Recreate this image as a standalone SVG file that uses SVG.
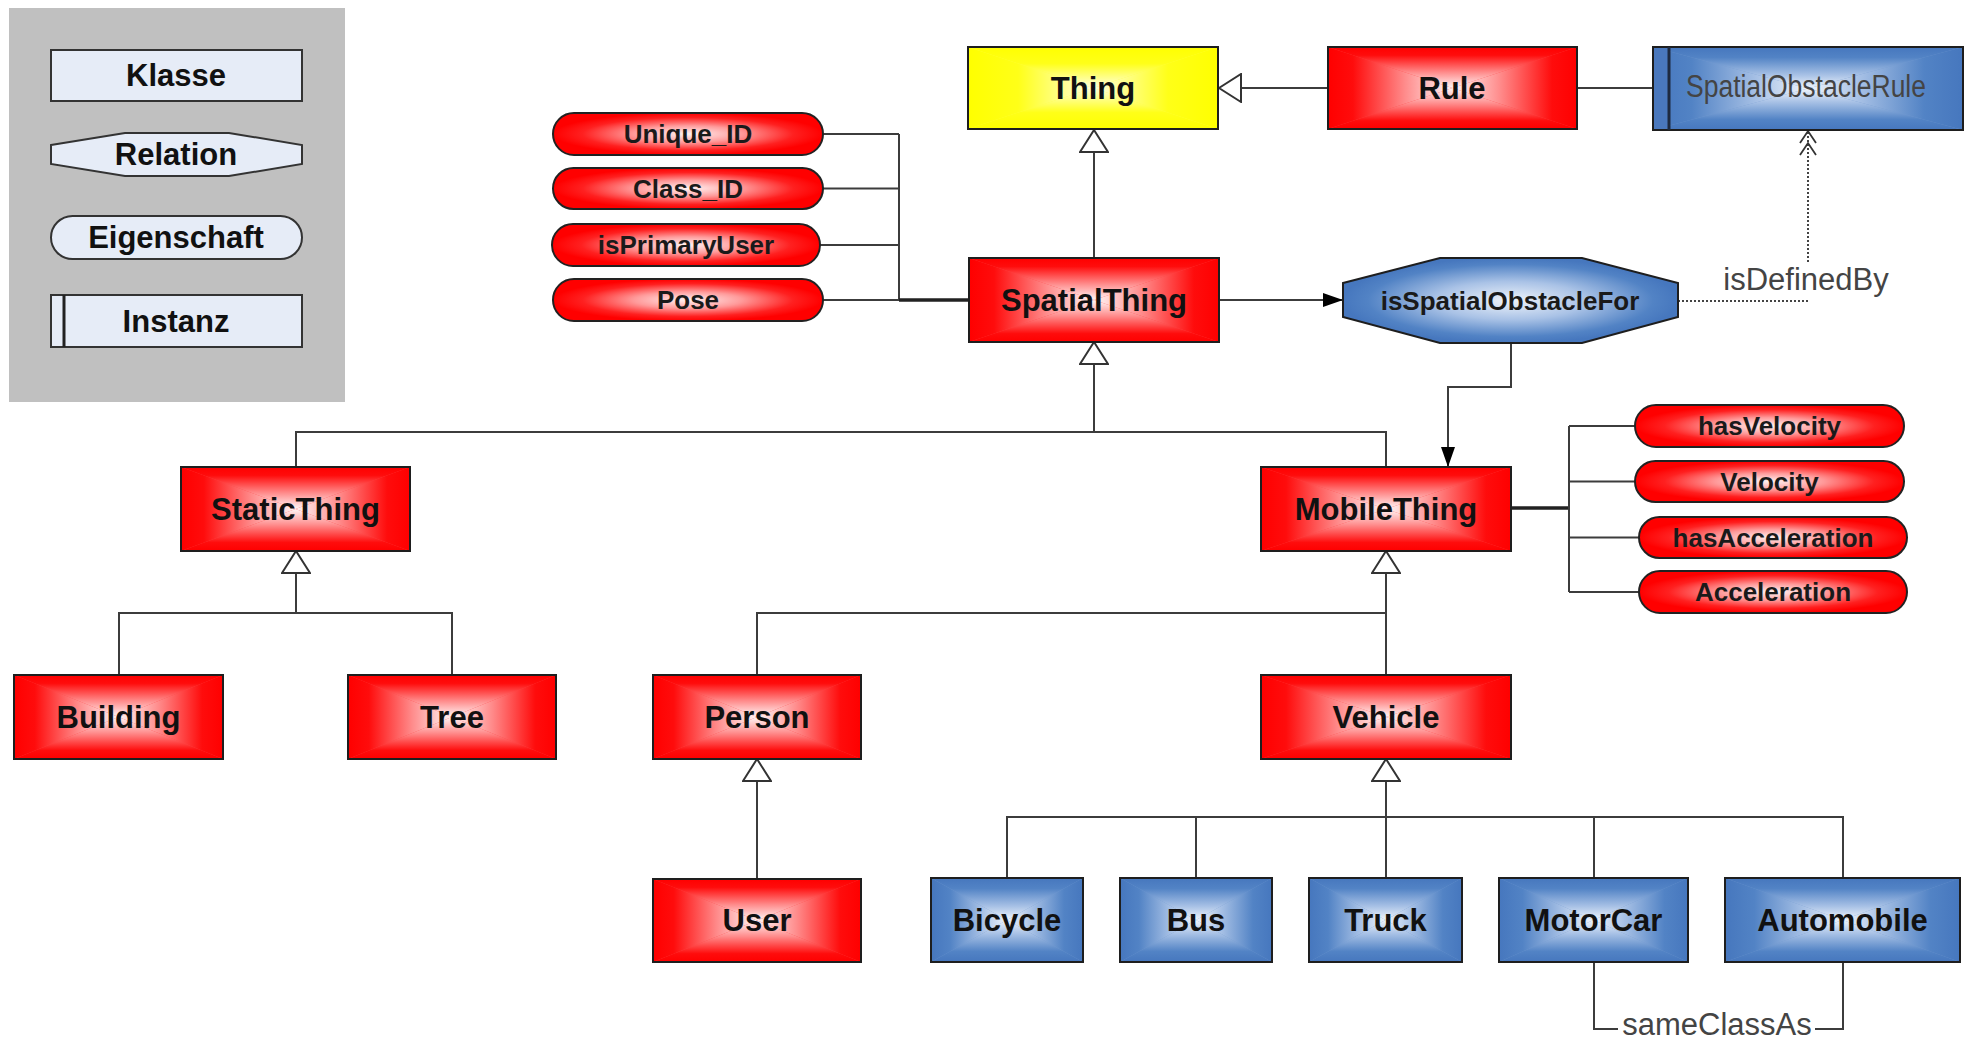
<svg xmlns="http://www.w3.org/2000/svg" width="1969" height="1042" viewBox="0 0 1969 1042">
<style>
  .ln{fill:none;stroke:#3c3c3c;stroke-width:2}
  .thick{fill:none;stroke:#222;stroke-width:3.5}
  .dot{fill:none;stroke:#444;stroke-width:2;stroke-dasharray:2 2}
  .edge{fill:none;stroke:#1e1e1e;stroke-width:2}
  .lg{fill:#e6ecf7;stroke:#333;stroke-width:2}
  .pill{fill:url(#pillG);stroke:#222;stroke-width:2}
  .t{font-family:"Liberation Sans",Arial,sans-serif;font-weight:bold;font-size:31px;fill:#111;text-anchor:middle}
  .tp{font-family:"Liberation Sans",Arial,sans-serif;font-weight:bold;font-size:26px;fill:#1a1a1a;text-anchor:middle}
  .tn{font-family:"Liberation Sans",Arial,sans-serif;font-weight:normal;font-size:31px;fill:#444;text-anchor:middle}
</style>
<defs>
  <linearGradient id="rT" x1="0" y1="0" x2="0" y2="1">
    <stop offset="0" stop-color="#ff0000"/><stop offset="0.2" stop-color="#ff0c0c"/><stop offset="0.62" stop-color="#ff8c8c"/><stop offset="1" stop-color="#fff6f6"/>
  </linearGradient>
  <linearGradient id="rB" href="#rT" x1="0" y1="1" x2="0" y2="0"/>
  <linearGradient id="rL" href="#rT" x1="0" y1="0" x2="1" y2="0"/>
  <linearGradient id="rR" href="#rT" x1="1" y1="0" x2="0" y2="0"/>
  <linearGradient id="bT" x1="0" y1="0" x2="0" y2="1">
    <stop offset="0" stop-color="#4677be"/><stop offset="0.25" stop-color="#5283c5"/><stop offset="0.68" stop-color="#a9c2e6"/><stop offset="1" stop-color="#f0f5fb"/>
  </linearGradient>
  <linearGradient id="bB" href="#bT" x1="0" y1="1" x2="0" y2="0"/>
  <linearGradient id="bL" href="#bT" x1="0" y1="0" x2="1" y2="0"/>
  <linearGradient id="bR" href="#bT" x1="1" y1="0" x2="0" y2="0"/>
  <linearGradient id="yT" x1="0" y1="0" x2="0" y2="1">
    <stop offset="0" stop-color="#ffff00"/><stop offset="0.4" stop-color="#ffff18"/><stop offset="1" stop-color="#ffffe0"/>
  </linearGradient>
  <linearGradient id="yB" href="#yT" x1="0" y1="1" x2="0" y2="0"/>
  <linearGradient id="yL" href="#yT" x1="0" y1="0" x2="1" y2="0"/>
  <linearGradient id="yR" href="#yT" x1="1" y1="0" x2="0" y2="0"/>
  <radialGradient id="pillG" cx="0.5" cy="0.5" r="0.5">
    <stop offset="0" stop-color="#fff2f2"/><stop offset="0.4" stop-color="#ff9a9a"/><stop offset="0.78" stop-color="#ff2020"/><stop offset="1" stop-color="#ff0000"/>
  </radialGradient>
  <radialGradient id="octG" cx="0.5" cy="0.5" r="0.5">
    <stop offset="0" stop-color="#eef3fa"/><stop offset="0.45" stop-color="#a9c2e6"/><stop offset="0.85" stop-color="#5283c5"/><stop offset="1" stop-color="#4677be"/>
  </radialGradient>
  <symbol id="boxR" viewBox="0 0 100 100" preserveAspectRatio="none">
    <rect width="100" height="100" fill="#ff4040"/>
    <polygon points="0,0 100,0 50,50" fill="url(#rT)"/>
    <polygon points="100,0 100,100 50,50" fill="url(#rR)"/>
    <polygon points="0,100 100,100 50,50" fill="url(#rB)"/>
    <polygon points="0,0 0,100 50,50" fill="url(#rL)"/>
  </symbol>
  <symbol id="boxB" viewBox="0 0 100 100" preserveAspectRatio="none">
    <rect width="100" height="100" fill="#7098cf"/>
    <polygon points="0,0 100,0 50,50" fill="url(#bT)"/>
    <polygon points="100,0 100,100 50,50" fill="url(#bR)"/>
    <polygon points="0,100 100,100 50,50" fill="url(#bB)"/>
    <polygon points="0,0 0,100 50,50" fill="url(#bL)"/>
  </symbol>
  <symbol id="boxY" viewBox="0 0 100 100" preserveAspectRatio="none">
    <rect width="100" height="100" fill="#ffff40"/>
    <polygon points="0,0 100,0 50,50" fill="url(#yT)"/>
    <polygon points="100,0 100,100 50,50" fill="url(#yR)"/>
    <polygon points="0,100 100,100 50,50" fill="url(#yB)"/>
    <polygon points="0,0 0,100 50,50" fill="url(#yL)"/>
  </symbol>
  <marker id="gen" viewBox="0 0 24 30" refX="23" refY="15" markerWidth="24" markerHeight="30" orient="auto" markerUnits="userSpaceOnUse">
    <path d="M1,1 L23,15 L1,29 Z" fill="#fff" stroke="#333" stroke-width="2"/>
  </marker>
  <marker id="arr" viewBox="0 0 20 14" refX="20" refY="7" markerWidth="20" markerHeight="14" orient="auto" markerUnits="userSpaceOnUse">
    <path d="M0,0 L20,7 L0,14 Z" fill="#000"/>
  </marker>
</defs>

<rect width="1969" height="1042" fill="#fff"/>

<g id="legend">
  <rect x="9" y="8" width="336" height="394" fill="#c0c0c0"/>
  <g id="legend-klasse">
    <rect class="lg" x="51" y="50" width="251" height="51"/>
    <text class="t" x="176" y="86" font-size="30">Klasse</text>
  </g>
  <g id="legend-relation">
    <polygon class="lg" points="51,145 125,133 229,133 302,145 302,164 229,176 125,176 51,164"/>
    <text class="t" x="176" y="165" font-size="30">Relation</text>
  </g>
  <g id="legend-eigenschaft">
    <rect class="lg" x="51" y="216" width="251" height="43" rx="21.5"/>
    <text class="t" x="176" y="248" font-size="30">Eigenschaft</text>
  </g>
  <g id="legend-instanz">
    <rect class="lg" x="51" y="295" width="251" height="52"/>
    <line x1="64" y1="295" x2="64" y2="347" stroke="#222" stroke-width="3"/>
    <text class="t" x="176" y="332" font-size="30">Instanz</text>
  </g>
</g>

<g id="connectors">
  <path class="ln" d="M1328,88 H1219" marker-end="url(#gen)"/>
  <path class="ln" d="M1577,88 H1653"/>
  <path class="ln" d="M1094,258 V130" marker-end="url(#gen)"/>
  <path class="ln" d="M823,134 H899 M823,188.5 H899 M820,245 H899 M823,300 H899 M899,134 V300"/>
  <path class="thick" d="M899,300 H969"/>
  <path class="ln" d="M1219,300 H1343" marker-end="url(#arr)"/>
  <path class="ln" d="M1511,343 V387 H1448 V467" marker-end="url(#arr)"/>
  <path class="dot" d="M1678,301 H1808"/>
  <path class="dot" d="M1808,262 V132"/>
  <path d="M1800,143 L1808,131 L1816,143 M1800,155 L1808,143 L1816,155" fill="none" stroke="#333" stroke-width="1.8"/>
  <path class="ln" d="M1094,432 V342" marker-end="url(#gen)"/>
  <path class="ln" d="M296,467 V432 H1386 V467"/>
  <path class="thick" d="M1511,508 H1569"/>
  <path class="ln" d="M1569,426 V592 M1569,426 H1635 M1569,481.5 H1635 M1569,537.5 H1639 M1569,592 H1639"/>
  <path class="ln" d="M296,613 V551" marker-end="url(#gen)"/>
  <path class="ln" d="M119,675 V613 H452 V675"/>
  <path class="ln" d="M1386,675 V551" marker-end="url(#gen)"/>
  <path class="ln" d="M757,675 V613 H1386"/>
  <path class="ln" d="M757,879 V759" marker-end="url(#gen)"/>
  <path class="ln" d="M1386,878 V759" marker-end="url(#gen)"/>
  <path class="ln" d="M1007,878 V817 H1843 V878 M1196,817 V878 M1594,817 V878"/>
  <path class="ln" d="M1594,962 V1029 H1618 M1815,1029 H1843 V962"/>
  <text class="tn" x="1806" y="290">isDefinedBy</text>
  <text class="tn" x="1717" y="1035" font-size="30">sameClassAs</text>
</g>

<g id="thing">
  <use href="#boxY" x="968" y="47" width="250" height="82"/>
  <rect class="edge" x="968" y="47" width="250" height="82"/>
  <text class="t" x="1093" y="99">Thing</text>
</g>
<g id="rule">
  <use href="#boxR" x="1328" y="47" width="249" height="82"/>
  <rect class="edge" x="1328" y="47" width="249" height="82"/>
  <text class="t" x="1452" y="99">Rule</text>
</g>
<g id="spatialobstaclerule">
  <use href="#boxB" x="1653" y="47" width="310" height="83"/>
  <rect x="1653" y="47" width="16" height="83" fill="#4a78bd"/>
  <rect class="edge" x="1653" y="47" width="310" height="83"/>
  <line x1="1669" y1="47" x2="1669" y2="130" stroke="#1e2a40" stroke-width="3"/>
  <text class="tn" x="1806" y="97" font-size="25" fill="#2a2a2a" textLength="240" lengthAdjust="spacingAndGlyphs">SpatialObstacleRule</text>
</g>
<g id="spatialthing">
  <use href="#boxR" x="969" y="258" width="250" height="84"/>
  <rect class="edge" x="969" y="258" width="250" height="84"/>
  <text class="t" x="1094" y="311">SpatialThing</text>
</g>
<g id="isspatialobstaclefor">
  <polygon points="1343,283 1440,258 1582,258 1678,283 1678,317 1582,343 1440,343 1343,317" fill="url(#octG)" stroke="#1e1e1e" stroke-width="2"/>
  <text class="tp" x="1510" y="310" font-size="27">isSpatialObstacleFor</text>
</g>
<g id="unique-id">
  <rect class="pill" x="553" y="113" width="270" height="42" rx="21"/>
  <text class="tp" x="688" y="143">Unique_ID</text>
</g>
<g id="class-id">
  <rect class="pill" x="553" y="168" width="270" height="41" rx="20.5"/>
  <text class="tp" x="688" y="198">Class_ID</text>
</g>
<g id="isprimaryuser">
  <rect class="pill" x="552" y="224" width="268" height="42" rx="21"/>
  <text class="tp" x="686" y="254">isPrimaryUser</text>
</g>
<g id="pose">
  <rect class="pill" x="553" y="279" width="270" height="42" rx="21"/>
  <text class="tp" x="688" y="309">Pose</text>
</g>
<g id="staticthing">
  <use href="#boxR" x="181" y="467" width="229" height="84"/>
  <rect class="edge" x="181" y="467" width="229" height="84"/>
  <text class="t" x="295.5" y="520">StaticThing</text>
</g>
<g id="mobilething">
  <use href="#boxR" x="1261" y="467" width="250" height="84"/>
  <rect class="edge" x="1261" y="467" width="250" height="84"/>
  <text class="t" x="1386" y="520">MobileThing</text>
</g>
<g id="hasvelocity">
  <rect class="pill" x="1635" y="405" width="269" height="42" rx="21"/>
  <text class="tp" x="1769.5" y="435">hasVelocity</text>
</g>
<g id="velocity">
  <rect class="pill" x="1635" y="461" width="269" height="41" rx="20.5"/>
  <text class="tp" x="1769.5" y="491">Velocity</text>
</g>
<g id="hasacceleration">
  <rect class="pill" x="1639" y="517" width="268" height="41" rx="20.5"/>
  <text class="tp" x="1773" y="547">hasAcceleration</text>
</g>
<g id="acceleration">
  <rect class="pill" x="1639" y="571" width="268" height="42" rx="21"/>
  <text class="tp" x="1773" y="601">Acceleration</text>
</g>
<g id="building">
  <use href="#boxR" x="14" y="675" width="209" height="84"/>
  <rect class="edge" x="14" y="675" width="209" height="84"/>
  <text class="t" x="118.5" y="728">Building</text>
</g>
<g id="tree">
  <use href="#boxR" x="348" y="675" width="208" height="84"/>
  <rect class="edge" x="348" y="675" width="208" height="84"/>
  <text class="t" x="452" y="728">Tree</text>
</g>
<g id="person">
  <use href="#boxR" x="653" y="675" width="208" height="84"/>
  <rect class="edge" x="653" y="675" width="208" height="84"/>
  <text class="t" x="757" y="728">Person</text>
</g>
<g id="vehicle">
  <use href="#boxR" x="1261" y="675" width="250" height="84"/>
  <rect class="edge" x="1261" y="675" width="250" height="84"/>
  <text class="t" x="1386" y="728">Vehicle</text>
</g>
<g id="user">
  <use href="#boxR" x="653" y="879" width="208" height="83"/>
  <rect class="edge" x="653" y="879" width="208" height="83"/>
  <text class="t" x="757" y="931">User</text>
</g>
<g id="bicycle">
  <use href="#boxB" x="931" y="878" width="152" height="84"/>
  <rect class="edge" x="931" y="878" width="152" height="84"/>
  <text class="t" x="1007" y="931">Bicycle</text>
</g>
<g id="bus">
  <use href="#boxB" x="1120" y="878" width="152" height="84"/>
  <rect class="edge" x="1120" y="878" width="152" height="84"/>
  <text class="t" x="1196" y="931">Bus</text>
</g>
<g id="truck">
  <use href="#boxB" x="1309" y="878" width="153" height="84"/>
  <rect class="edge" x="1309" y="878" width="153" height="84"/>
  <text class="t" x="1385.5" y="931">Truck</text>
</g>
<g id="motorcar">
  <use href="#boxB" x="1499" y="878" width="189" height="84"/>
  <rect class="edge" x="1499" y="878" width="189" height="84"/>
  <text class="t" x="1593.5" y="931">MotorCar</text>
</g>
<g id="automobile">
  <use href="#boxB" x="1725" y="878" width="235" height="84"/>
  <rect class="edge" x="1725" y="878" width="235" height="84"/>
  <text class="t" x="1842.5" y="931">Automobile</text>
</g>
</svg>
